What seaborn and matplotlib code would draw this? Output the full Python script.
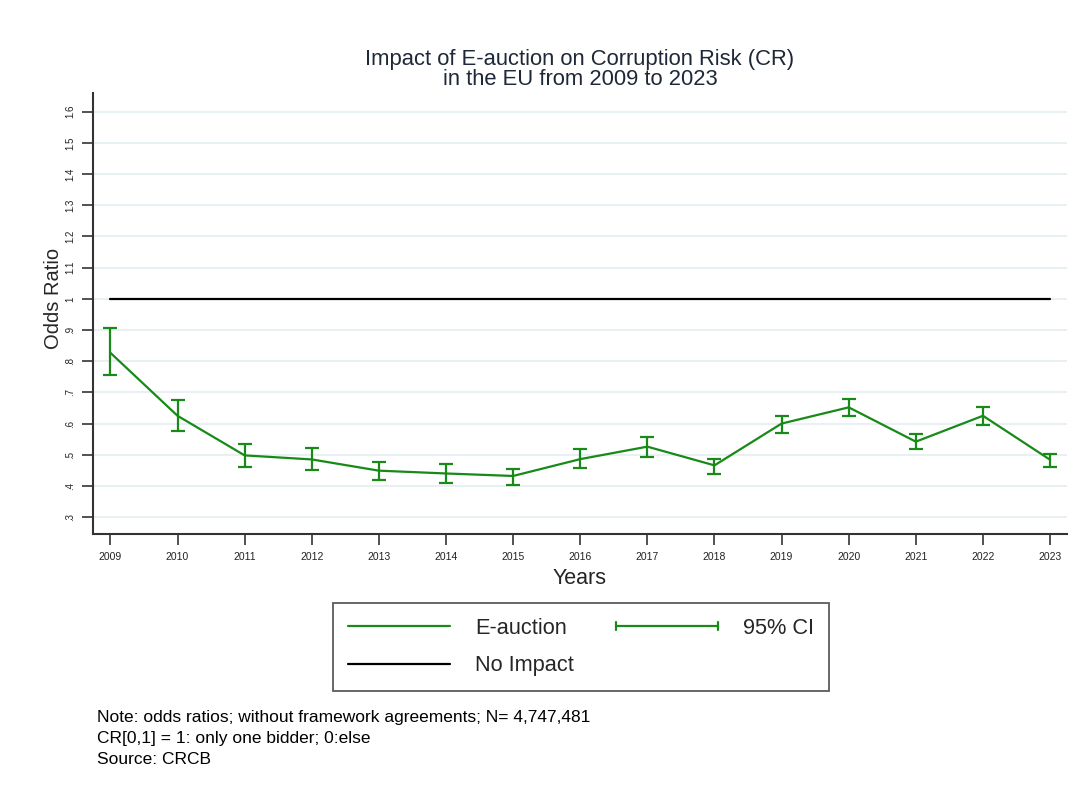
import matplotlib
matplotlib.use("Agg")
import matplotlib.pyplot as plt
from matplotlib.lines import Line2D
from matplotlib.legend_handler import HandlerBase
import numpy as np
import pandas as pd
import seaborn as sns

# Odds ratios of e-auction on single-bidder risk, by year, with 95% CI
years = [2009, 2010, 2011, 2012, 2013, 2014, 2015, 2016,
         2017, 2018, 2019, 2020, 2021, 2022, 2023]
odds_ratio = [0.827, 0.625, 0.498, 0.485, 0.449, 0.440, 0.432, 0.486,
              0.526, 0.466, 0.600, 0.652, 0.542, 0.625, 0.484]
ci_low = [0.756, 0.576, 0.462, 0.451, 0.419, 0.409, 0.404, 0.456,
          0.494, 0.437, 0.570, 0.624, 0.518, 0.597, 0.461]
ci_high = [0.905, 0.676, 0.536, 0.521, 0.478, 0.470, 0.455, 0.519,
           0.558, 0.488, 0.625, 0.679, 0.566, 0.654, 0.504]
no_impact = 1.0
y_ticks = [0.3, 0.4, 0.5, 0.6, 0.7, 0.8, 0.9, 1.0, 1.1, 1.2, 1.3, 1.4, 1.5, 1.6]

df = pd.DataFrame({"year": years, "or": odds_ratio, "lo": ci_low, "hi": ci_high})

sns.set_theme(style="white")
plt.rcParams["font.family"] = ["Liberation Sans", "DejaVu Sans"]

GREEN = "#178a17"
GRID = "#e6eff2"


class CappedRangeHandler(HandlerBase):
    """Legend key: horizontal line with short vertical caps at both ends."""

    def create_artists(self, legend, orig_handle, xdescent, ydescent,
                       width, height, fontsize, trans):
        y = height / 2.0 - ydescent
        x0, x1 = -xdescent, width - xdescent
        cap = height * 0.25
        lw = orig_handle.get_linewidth()
        c = orig_handle.get_color()
        arts = [Line2D([x0, x1], [y, y], color=c, lw=lw),
                Line2D([x0, x0], [y - cap, y + cap], color=c, lw=lw),
                Line2D([x1, x1], [y - cap, y + cap], color=c, lw=lw)]
        for a in arts:
            a.set_transform(trans)
        return arts


fig = plt.figure(figsize=(10.82, 7.99), dpi=100)
ax = fig.add_axes([0.0859, 0.3317, 0.9001, 0.5519])

# horizontal grid
for v in y_ticks:
    ax.axhline(v, color=GRID, lw=1.3, zorder=0)

# reference line at odds ratio 1
sns.lineplot(x=[years[0], years[-1]], y=[no_impact, no_impact], ax=ax,
             color="black", lw=1.6, zorder=2)

# confidence intervals
yerr = np.vstack([df["or"] - df["lo"], df["hi"] - df["or"]])
ax.errorbar(df["year"], df["or"], yerr=yerr, fmt="none", ecolor=GREEN,
            elinewidth=1.6, capsize=4.7, capthick=1.6, zorder=3)

# point estimates
sns.lineplot(data=df, x="year", y="or", ax=ax, color=GREEN, lw=1.6,
             zorder=4, estimator=None)

ax.set_xlim(2008.74, 2023.25)
ax.set_ylim(0.246, 1.66)
ax.set_xticks(years)
ax.set_xticklabels([str(y) for y in years], fontsize=7.5)
ax.set_yticks(y_ticks)
ax.set_yticklabels([(f"{v:.1f}".lstrip("0") if v < 1 else f"{v:g}") for v in y_ticks],
                   fontsize=7, rotation=90, va="center")
ax.tick_params(axis="both", direction="out", length=8, width=1.2, colors="#333333",
               labelcolor="#222222", bottom=True, left=True, pad=5)

for side in ["top", "right"]:
    ax.spines[side].set_visible(False)
for side in ["left", "bottom"]:
    ax.spines[side].set_color("#333333")
    ax.spines[side].set_linewidth(1.5)

ax.set_xlabel("Years", fontsize=15.5)
ax.xaxis.set_label_coords(0.5, -0.077)
ax.set_ylabel("Odds Ratio", fontsize=14.5)
ax.yaxis.set_label_coords(-0.031, 0.535)

fig.text(0.536, 0.939, "Impact of E-auction on Corruption Risk (CR)\nin the EU from 2009 to 2023",
         ha="center", va="top", fontsize=15.8, color="#1e2838", linespacing=0.97)

# legend
h_est = Line2D([], [], color=GREEN, lw=1.6)
h_ref = Line2D([], [], color="black", lw=1.6)
h_ci = Line2D([], [], color=GREEN, lw=1.6)
leg = fig.legend([h_est, h_ref, h_ci], ["E-auction", "No Impact", "95% CI"],
                 handler_map={h_ci: CappedRangeHandler()},
                 ncol=2, loc="upper left", bbox_to_anchor=(0.3078, 0.2453),
                 borderaxespad=0.0,
                 fontsize=15.7, frameon=True, fancybox=False, edgecolor="#333333",
                 handlelength=4.7, handletextpad=1.15, columnspacing=1.9,
                 labelspacing=0.75, borderpad=0.68)
leg.get_frame().set_linewidth(1.3)

fig.text(0.0896, 0.111,
         "Note: odds ratios; without framework agreements; N= 4,747,481\n"
         "CR[0,1] = 1: only one bidder; 0:else\n"
         "Source: CRCB",
         ha="left", va="top", fontsize=12.5, color="black", linespacing=1.5)

fig.savefig("out.png", dpi=100, facecolor="white")
